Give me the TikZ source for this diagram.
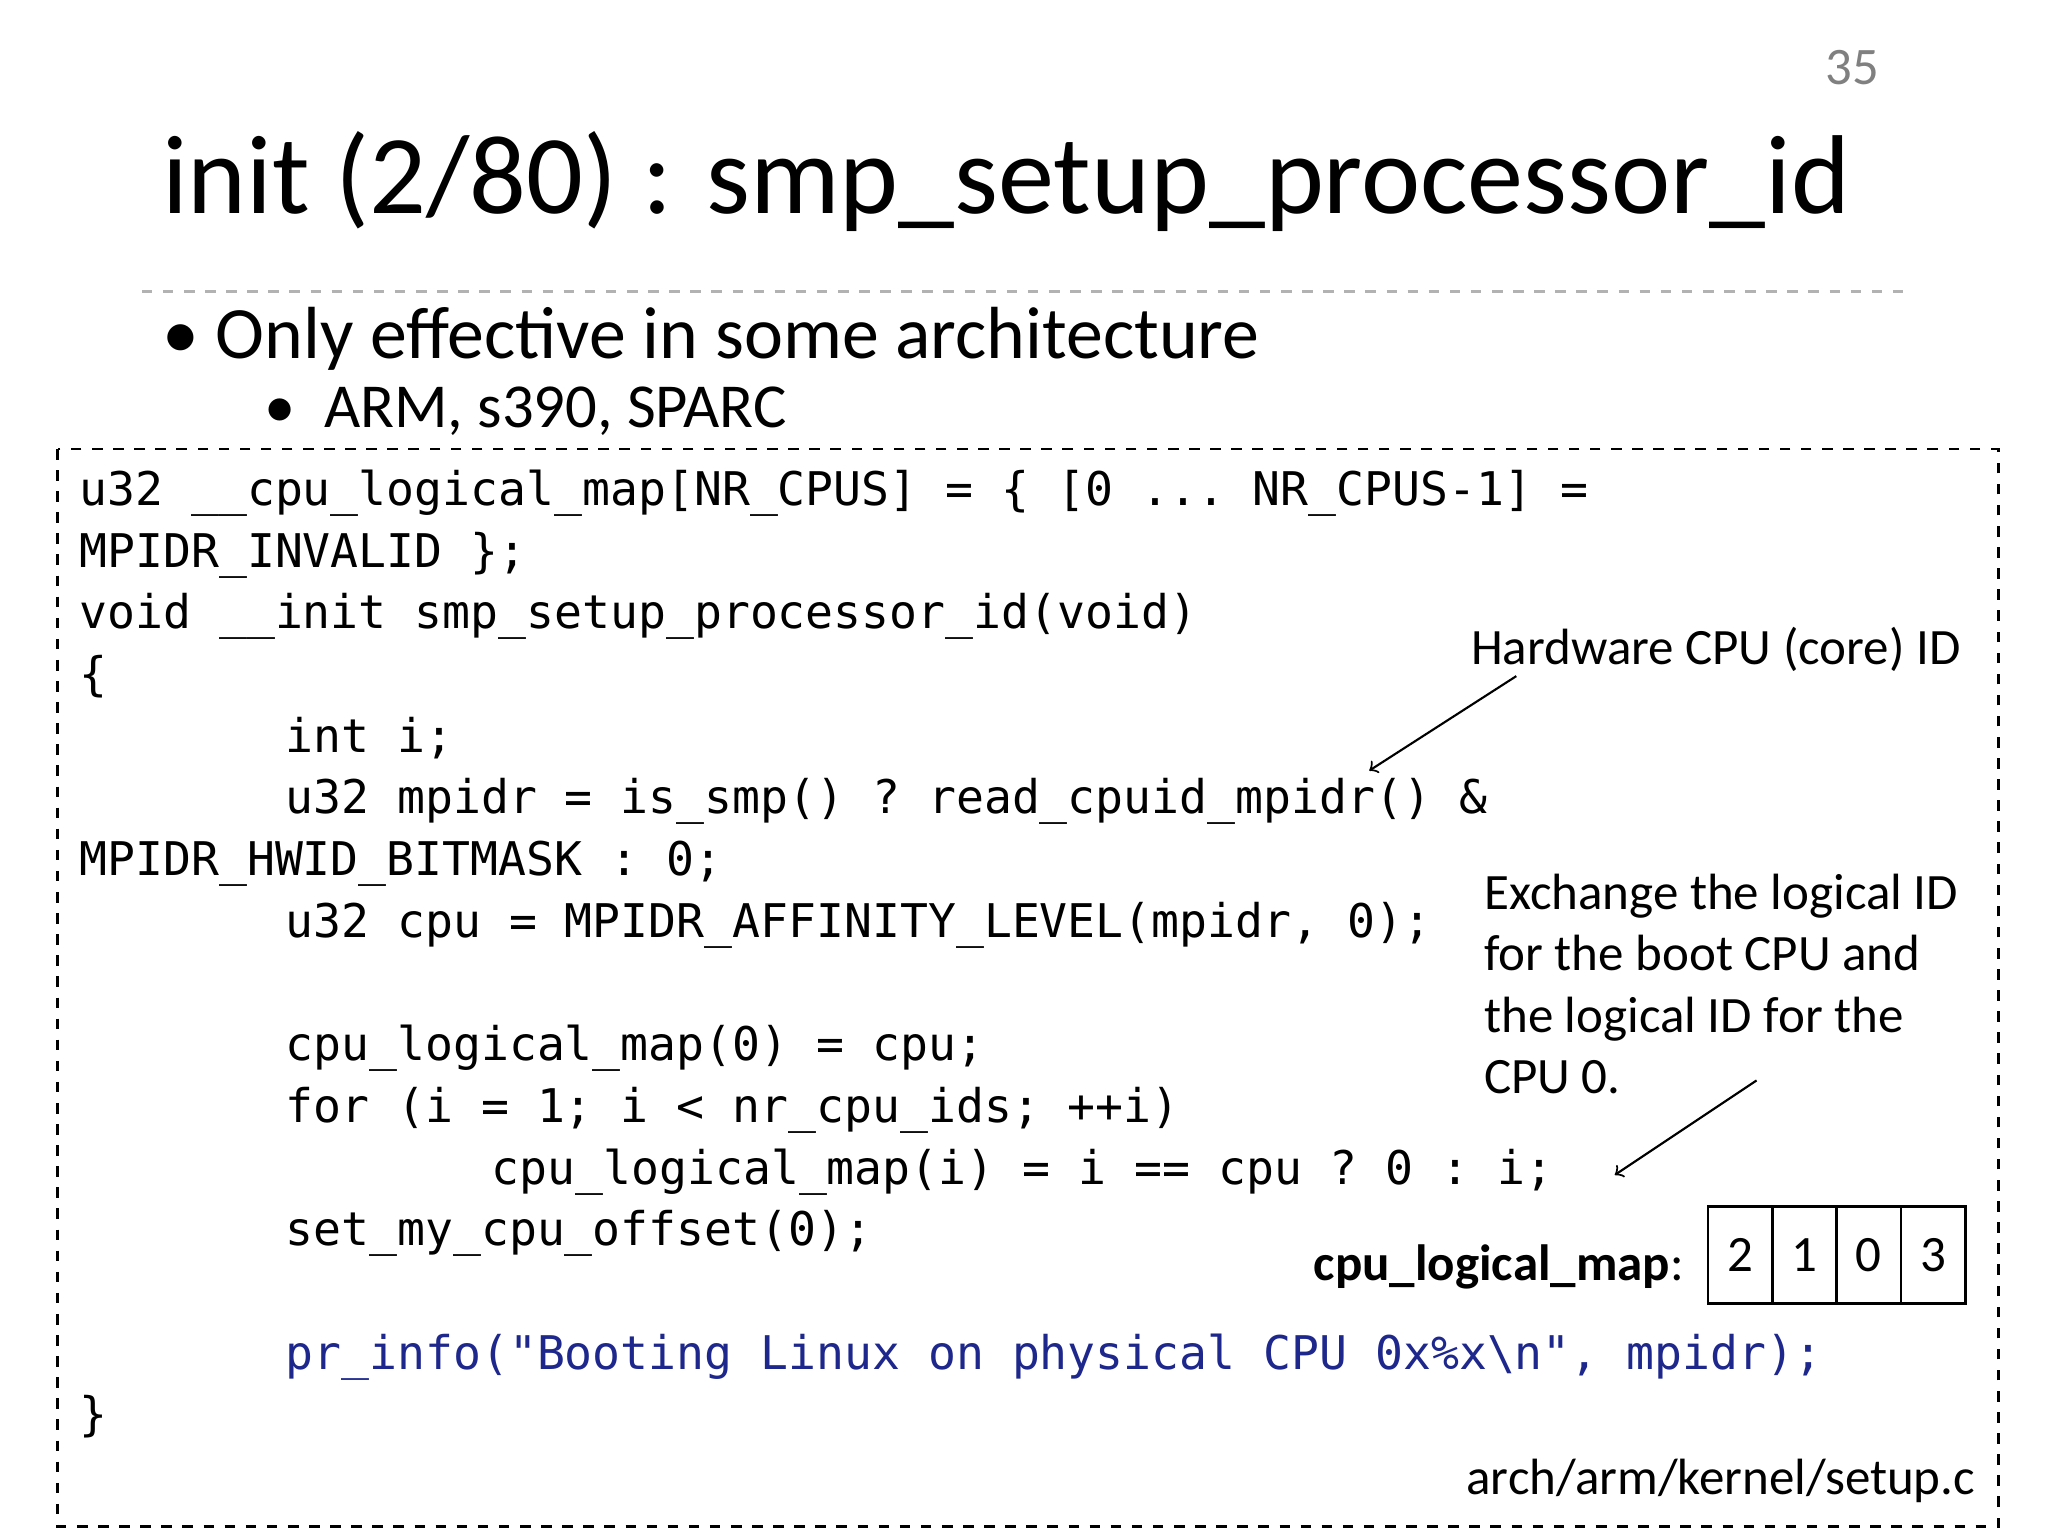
\documentclass[tikz,border=0pt]{standalone}
\usepackage{fontspec}
\setmainfont{Carlito}
\setmonofont{DejaVu Sans Mono}
\usetikzlibrary{arrows}
\definecolor{infoblue}{RGB}{30,40,140}
\tikzset{
        >=to,
        code/.style = {anchor=base west, inner sep=0pt, font=\fontsize{13.2}{15}\ttfamily},
        note/.style = {anchor=base west, inner sep=0pt, font=\fontsize{14.5}{17}\selectfont},
        cell/.style = {draw, thick, minimum width=0.643cm, minimum height=0.97cm, inner sep=0pt, font=\fontsize{14.5}{17}\selectfont}
}
\begin{document}
\begin{tikzpicture}[x=0.01313cm, y=-0.01313cm]
        \useasboundingbox (0,0) rectangle (1560,1170);

        % Title
        \node [anchor=base east, text=gray, font=\fontsize{15}{18}\selectfont] (page) at (1441,64) {35};
        \node [anchor=base west, inner sep=0pt, font=\fontsize{31.9}{40}\selectfont] (title) at (123,163) {init (2/80) : smp\_setup\_processor\_id};
        \draw [gray!60, dashed, thick] (108,222) -- (1455,222);

        % Bullets
        \node [anchor=base west, inner sep=0pt, font=\fontsize{21}{25}\selectfont] (b1) at (123,273) {\textbullet\ Only effective in some architecture};
        \node [anchor=base west, inner sep=0pt, font=\fontsize{17.8}{21}\selectfont] (b2) at (201,326) {\textbullet\ \ ARM, s390, SPARC};

        % Code box
        \draw [dashed, thick] (44,342) rectangle (1522,1163);
        \node [code] (c1) at (60,385) {u32 \_\_cpu\_logical\_map[NR\_CPUS] = \{ [0 ... NR\_CPUS-1] =};
        \node [code] (c2) at (60,432) {MPIDR\_INVALID \};};
        \node [code] (c3) at (60,479) {void \_\_init smp\_setup\_processor\_id(void)};
        \node [code] (c4) at (60,526) {\{};
        \node [code] (c5) at (217,573) {int i;};
        \node [code] (c6) at (217,620) {u32 mpidr = is\_smp() ? read\_cpuid\_mpidr() \&};
        \node [code] (c7) at (60,667) {MPIDR\_HWID\_BITMASK : 0;};
        \node [code] (c8) at (217,714) {u32 cpu = MPIDR\_AFFINITY\_LEVEL(mpidr, 0);};
        \node [code] (c9) at (217,808) {cpu\_logical\_map(0) = cpu;};
        \node [code] (c10) at (217,855) {for (i = 1; i < nr\_cpu\_ids; ++i)};
        \node [code] (c11) at (374,902) {cpu\_logical\_map(i) = i == cpu ? 0 : i;};
        \node [code] (c12) at (217,949) {set\_my\_cpu\_offset(0);};
        \node [code, text=infoblue] (c13) at (217,1043) {pr\_info("Booting Linux on physical CPU 0x\%x\textbackslash n", mpidr);};
        \node [code] (c14) at (60,1090) {\}};

        % Notes
        \node [note] (hw) at (1120,506) {Hardware CPU (core) ID};
        \node [note, align=left, anchor=north west, font=\fontsize{14.5}{17.5}\selectfont] (swap) at (1130,665) {Exchange the logical ID\\for the boot CPU and\\the logical ID for the\\CPU 0.};
        \coordinate (hwstart) at (1155,515);
        \coordinate (hwend) at (1043,587);
        \coordinate (swapstart) at (1338,823);
        \coordinate (swapend) at (1230,895);
        \draw [->, semithick] (hwstart) -- (hwend);
        \draw [->, semithick] (swapstart) -- (swapend);

        % Map
        \node [anchor=base east, inner sep=0pt, font=\fontsize{14.5}{17}\selectfont] (maplabel) at (1283,975) {\textbf{cpu\_logical\_map}:};
        \node [cell] (m0) at (1325.5,956) {2};
        \node [cell] (m1) at (1374.5,956) {1};
        \node [cell] (m2) at (1423.5,956) {0};
        \node [cell] (m3) at (1472.5,956) {3};

        \node [anchor=base east, inner sep=0pt, font=\fontsize{14.5}{17}\selectfont] (path) at (1505,1138) {arch/arm/kernel/setup.c};
\end{tikzpicture}
\end{document}
